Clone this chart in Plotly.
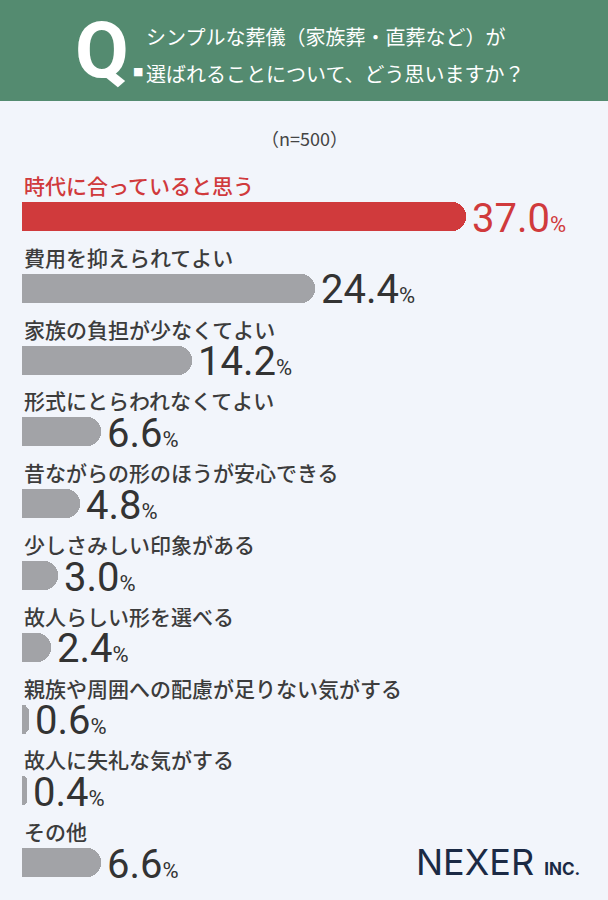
import plotly.graph_objects as go

categories = [
    "時代に合っていると思う",
    "費用を抑えられてよい",
    "家族の負担が少なくてよい",
    "形式にとらわれなくてよい",
    "昔ながらの形のほうが安心できる",
    "少しさみしい印象がある",
    "故人らしい形を選べる",
    "親族や周囲への配慮が足りない気がする",
    "故人に失礼な気がする",
    "その他",
]
values = [37.0, 24.4, 14.2, 6.6, 4.8, 3.0, 2.4, 0.6, 0.4, 6.6]
sample_label = "（n=500）"
title_lines = ["シンプルな葬儀（家族葬・直葬など）が", "選ばれることについて、どう思いますか？"]
brand_main = "NEXER"
brand_sub = "INC."

W, H = 608, 900
RED = "#d03a3c"
GRAY = "#a2a3a7"
TXT = "#3c3c3c"
GREEN = "#548b70"
BG = "#f2f5fb"
JP = "Noto Sans CJK JP"
NUM = "Roboto"

idx = list(range(len(categories)))
colors = [RED if i == 0 else GRAY for i in idx]

# pixel mapping helpers for axis ranges
pitch = 71.8
first_center = 216.5
y_bottom = (H - first_center) / pitch
y_top = (0 - first_center) / pitch
x0_px = 22
px_per_unit = (466 - x0_px) / values[0]
x_left = -x0_px / px_per_unit
x_right = (W - x0_px) / px_per_unit
bar_w = 29 / pitch

def px(x):
    return x / W

def py(y):
    return 1 - y / H

fig = go.Figure()
fig.add_trace(go.Bar(
    y=idx, x=values, orientation="h", width=bar_w,
    marker=dict(color=colors, cornerradius=15, line=dict(width=0)),
    hoverinfo="skip", showlegend=False,
))
fig.add_trace(go.Bar(
    y=idx, x=[v / 2 for v in values], orientation="h", width=bar_w,
    marker=dict(color=colors, line=dict(width=0)),
    hoverinfo="skip", showlegend=False,
))

annotations = []
for i, (c, v) in enumerate(zip(categories, values)):
    col = RED if i == 0 else TXT
    annotations.append(dict(
        x=0, y=i - 0.44, xref="x", yref="y", xanchor="left", yanchor="middle",
        text=c, showarrow=False, height=24,
        font=dict(family=JP, size=21, color=col, weight=500),
    ))
    vcol = RED if i == 0 else "#333333"
    annotations.append(dict(
        x=v, y=i, xref="x", yref="y", xanchor="left", yanchor="middle",
        xshift=4, yshift=-1, height=30,
        text=f"{v:.1f}<span style='font-size:22px'>%</span>", showarrow=False,
        font=dict(family=NUM, size=40, color=vcol, weight=400),
    ))

annotations.append(dict(
    x=0.5, y=py(138), xref="paper", yref="paper", xanchor="center", yanchor="middle",
    text=sample_label, showarrow=False, font=dict(family=JP, size=18, color="#444444"),
))
annotations.append(dict(
    x=px(73), y=py(50), xref="paper", yref="paper", xanchor="left", yanchor="middle",
    text="<b>Q</b>", showarrow=False,
    font=dict(family="Roboto", size=78, color="white"),
))
annotations.append(dict(
    x=px(131), y=py(72), xref="paper", yref="paper", xanchor="left", yanchor="middle",
    text="■", showarrow=False, font=dict(family="DejaVu Sans", size=11, color="white"),
))
for k, line in enumerate(title_lines):
    annotations.append(dict(
        x=px(144), y=py(36 + 37 * k), xref="paper", yref="paper", xanchor="left", yanchor="middle",
        text=line, showarrow=False, align="left",
        font=dict(family=JP, size=20, color="white", weight=400),
    ))
annotations.append(dict(
    x=px(582), y=py(862), xref="paper", yref="paper", xanchor="right", yanchor="middle",
    text=f"{brand_main} <span style='font-size:17px'><b>{brand_sub}</b></span>", showarrow=False,
    font=dict(family="Inter", size=36, color="#1b2a45", weight=400),
))

fig.update_layout(
    width=W, height=H,
    margin=dict(l=0, r=0, t=0, b=0),
    paper_bgcolor=BG, plot_bgcolor=BG,
    barmode="overlay", bargap=0,
    xaxis=dict(range=[x_left, x_right], visible=False, fixedrange=True),
    yaxis=dict(range=[y_bottom, y_top], visible=False, fixedrange=True),
    shapes=[dict(type="rect", xref="paper", yref="paper", x0=0, x1=1, y0=py(101), y1=1,
                 fillcolor=GREEN, line=dict(width=0), layer="below")],
    annotations=annotations,
    showlegend=False,
)

fig.write_html(
    "out.html",
    config={"displayModeBar": False},
    post_script="document.body.style.margin='0';document.body.style.overflow='hidden';",
)
